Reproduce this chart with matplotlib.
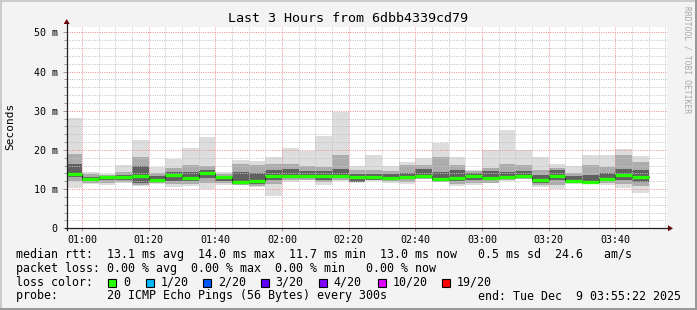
import numpy as np
import matplotlib
matplotlib.use("Agg")
import matplotlib.pyplot as plt
from matplotlib.lines import Line2D
from matplotlib.patches import Rectangle, Polygon

W, H = 697, 310
DPI = 100

#-- dati (ms), una barra ogni 5 minuti a partire dalle 00:55
t_start = 55          # minuti dalla mezzanotte, inizio prima barra
step = 5
t0, t1 = 55 + 22/60, 235 + 22/60   # finestra del grafico 00:55:22 -> 03:55:22

mx  = [28.1, 14.4, 13.8, 16.1, 22.4, 15.6, 17.7, 20.4, 23.2, 14.4, 17.4, 17.1, 18.2, 20.5, 19.8, 23.6, 29.7, 16.0,
       18.6, 16.0, 16.9, 18.0, 21.8, 18.2, 15.0, 19.9, 25.0, 19.9, 18.2, 16.3, 16.0, 18.6, 18.8, 20.3, 18.4]
hi2 = [19.0, 13.9, 13.6, 14.4, 18.3, 14.0, 15.4, 16.2, 16.0, 13.9, 16.3, 16.1, 16.5, 16.3, 16.0, 15.6, 18.8, 14.8,
       14.8, 14.6, 16.1, 16.1, 18.2, 16.1, 14.6, 15.4, 16.3, 16.1, 14.8, 15.4, 14.0, 16.1, 15.6, 18.6, 16.9]
hi3 = [16.5, 13.2, 13.3, 13.6, 15.8, 13.3, 14.4, 14.4, 14.8, 13.2, 14.4, 14.0, 14.8, 15.2, 14.5, 14.5, 15.2, 13.8,
       13.9, 13.8, 14.2, 15.2, 14.4, 14.8, 14.0, 14.6, 14.4, 14.6, 13.5, 14.8, 13.3, 13.5, 14.0, 15.2, 14.8]
med = [13.9, 12.6, 13.0, 13.1, 13.3, 12.3, 13.5, 12.8, 14.0, 13.1, 11.7, 12.0, 13.3, 13.4, 13.3, 13.4, 13.4, 13.0,
       13.1, 12.9, 13.2, 13.4, 12.5, 12.9, 13.3, 12.9, 13.1, 13.4, 12.2, 13.3, 12.1, 11.9, 12.5, 13.6, 13.1]
lo3 = [13.0, 12.0, 12.2, 12.4, 11.6, 11.9, 12.0, 12.1, 12.8, 12.0, 11.3, 11.2, 12.2, 12.8, 12.8, 12.4, 12.8, 11.9,
       12.4, 12.4, 12.6, 12.9, 12.1, 12.0, 12.2, 12.2, 12.6, 12.9, 11.6, 12.3, 11.9, 11.6, 12.0, 12.2, 11.8]
lo2 = [12.0, 11.6, 11.6, 11.9, 11.0, 11.6, 11.2, 11.3, 11.5, 11.6, 11.0, 10.8, 11.2, 12.2, 12.4, 11.9, 12.4, 11.7,
       12.2, 12.0, 11.8, 12.6, 11.9, 11.2, 11.5, 11.6, 12.2, 12.7, 11.0, 11.0, 11.5, 11.5, 11.6, 11.4, 10.7]
mn  = [10.4, 11.3, 11.1, 11.6, 10.8, 11.4, 10.5, 10.9, 9.9, 11.1, 11.0, 10.6, 8.2, 11.8, 12.3, 11.0, 12.0, 11.6,
       12.0, 11.6, 11.3, 12.5, 12.0, 10.7, 11.0, 11.6, 12.0, 12.7, 10.5, 9.9, 11.3, 11.5, 11.0, 10.3, 8.9]

tick_labels = ["01:00", "01:20", "01:40", "02:00", "02:20", "02:40", "03:00", "03:20", "03:40"]
tick_min    = [60, 80, 100, 120, 140, 160, 180, 200, 220]

loss_labels = ["0", "1/20", "2/20", "3/20", "4/20", "10/20", "19/20"]
loss_colors = ["#26ff00", "#00b8ff", "#0059ff", "#5e00ff", "#7e00ff", "#dd00ff", "#ff0000"]

line_rtt  = "median rtt:  13.1 ms avg  14.0 ms max  11.7 ms min  13.0 ms now   0.5 ms sd  24.6   am/s"
line_loss = "packet loss: 0.00 % avg  0.00 % max  0.00 % min   0.00 % now"
line_prb  = "probe:       20 ICMP Echo Pings (56 Bytes) every 300s"
line_end  = "end: Tue Dec  9 03:55:22 2025"

MONO = "DejaVu Sans Mono"

def fx(x): return x / W
def fy(y): return 1 - y / H

fig = plt.figure(figsize=(W/DPI, H/DPI), dpi=DPI, facecolor="#f3f3f3")

#-- bordo (ombre)
fig.add_artist(Rectangle((0, fy(2)), 1, 2/H, transform=fig.transFigure, color="#cbcbcb", lw=0))
fig.add_artist(Rectangle((0, 0), 2/W, 1, transform=fig.transFigure, color="#cbcbcb", lw=0))
fig.add_artist(Rectangle((0, 0), 1, 2/H, transform=fig.transFigure, color="#999999", lw=0))
fig.add_artist(Rectangle((1-2/W, 0), 2/W, 1, transform=fig.transFigure, color="#999999", lw=0))

#-- area del grafico
L, R, T, B = 66.7, 666.7, 26.7, 228.3
ax = fig.add_axes([fx(L), fy(B), (R-L)/W, (B-T)/H])
ax.set_facecolor("white")
ymax = 50 * (B - T) / (B - 32.3)
ax.set_xlim(t0, t1)
ax.set_ylim(0, ymax)

n = len(med)
starts = np.array([t_start + step*i for i in range(n)], dtype=float)
mx, hi2, hi3, med, lo3, lo2, mn = map(np.array, (mx, hi2, hi3, med, lo3, lo2, mn))

#-- fumo
ax.bar(starts, mx - mn,   bottom=mn,  width=step, align="edge", color="#dddddd", lw=0, zorder=1)
ax.bar(starts, hi2 - lo2, bottom=lo2, width=step, align="edge", color="#acacac", lw=0, zorder=1.1)
ax.bar(starts, hi3 - lo3, bottom=lo3, width=step, align="edge", color="#606060", lw=0, zorder=1.2)

#-- griglia (sopra al fumo), puntinata
gkw = dict(lw=0.72, ls=(0, (1, 1.3)))
for v in np.arange(0, 51, 2):
    if v % 10:
        ax.axhline(v, color="#c4c4c4", zorder=1.5, **gkw)
for v in np.arange(60, t1, 5):
    if (v - 60) % 20:
        ax.axvline(v, color="#c4c4c4", zorder=1.5, **gkw)
for v in range(10, 51, 10):
    ax.axhline(v, color="#ea9292", zorder=1.6, **gkw)
for v in tick_min:
    ax.axvline(v, color="#ea9292", zorder=1.6, **gkw)

#-- mediana
ax.step(np.append(starts, starts[-1] + step), np.append(med, med[-1]), where="post",
        color="#202020", lw=0.8, zorder=2)
ax.hlines(med, starts, starts + step, color=loss_colors[0], lw=2.4, zorder=3)

for s in ax.spines.values():
    s.set_visible(False)
ax.set_xticks(tick_min)
ax.set_xticklabels(tick_labels, fontsize=7.2, family=MONO)
ax.set_yticks([0, 10, 20, 30, 40, 50])
ax.set_yticklabels(["0", "10 m", "20 m", "30 m", "40 m", "50 m"], fontsize=7.2, family=MONO)
ax.set_yticks(np.arange(0, 51, 2), minor=True)
ax.tick_params(axis="both", which="both", direction="out", color="#999999", width=0.7)
ax.tick_params(axis="y", which="major", length=3, pad=3.5)
ax.tick_params(axis="y", which="minor", length=2)
ax.tick_params(axis="x", which="major", length=2, pad=3)

#-- assi e frecce
axis_col = "#202020"
fig.add_artist(Line2D([fx(L), fx(L)], [fy(B + 2), fy(22)], transform=fig.transFigure, color=axis_col, lw=0.9))
fig.add_artist(Line2D([fx(L - 2), fx(670)], [fy(B), fy(B)], transform=fig.transFigure, color=axis_col, lw=0.9))
fig.add_artist(Polygon([(fx(L - 3), fy(24)), (fx(L + 3), fy(24)), (fx(L), fy(19))],
                       transform=fig.transFigure, color="#7f0000", lw=0))
fig.add_artist(Polygon([(fx(668), fy(B - 3)), (fx(668), fy(B + 3)), (fx(673), fy(B))],
                       transform=fig.transFigure, color="#7f0000", lw=0))

#-- testi
fig.text(fx(348), fy(19), "Last 3 Hours from 6dbb4339cd79", family=MONO, fontsize=9.6,
         ha="center", va="center")
fig.text(fx(10.5), fy(126.5), "Seconds", family=MONO, fontsize=8, rotation=90, ha="center", va="center")
fig.text(fx(687), fy(60), "RRDTOOL / TOBI OETIKER", family=MONO, fontsize=5.8, rotation=-90,
         ha="center", va="center", color="#a8a8a8")

fs = 8.4
fig.text(fx(16), fy(254.3), line_rtt, family=MONO, fontsize=fs, va="center")
fig.text(fx(16), fy(268.3), line_loss, family=MONO, fontsize=fs, va="center")
fig.text(fx(16), fy(282.3), "loss color:", family=MONO, fontsize=fs, va="center")
box_x = [108.3, 146, 203.3, 261, 319.3, 377.7, 441.7]
for bx, lab, col in zip(box_x, loss_labels, loss_colors):
    fig.add_artist(Rectangle((fx(bx), fy(286.5)), 8/W, 8/H, transform=fig.transFigure,
                             facecolor=col, edgecolor="black", lw=0.8))
    fig.text(fx(bx + 14.5), fy(282.3), lab, family=MONO, fontsize=fs, va="center")
fig.text(fx(16), fy(296), line_prb, family=MONO, fontsize=fs, va="center")
fig.text(fx(681), fy(296), line_end, family=MONO, fontsize=fs, va="center", ha="right")

fig.savefig("out.png", dpi=DPI, facecolor=fig.get_facecolor())
